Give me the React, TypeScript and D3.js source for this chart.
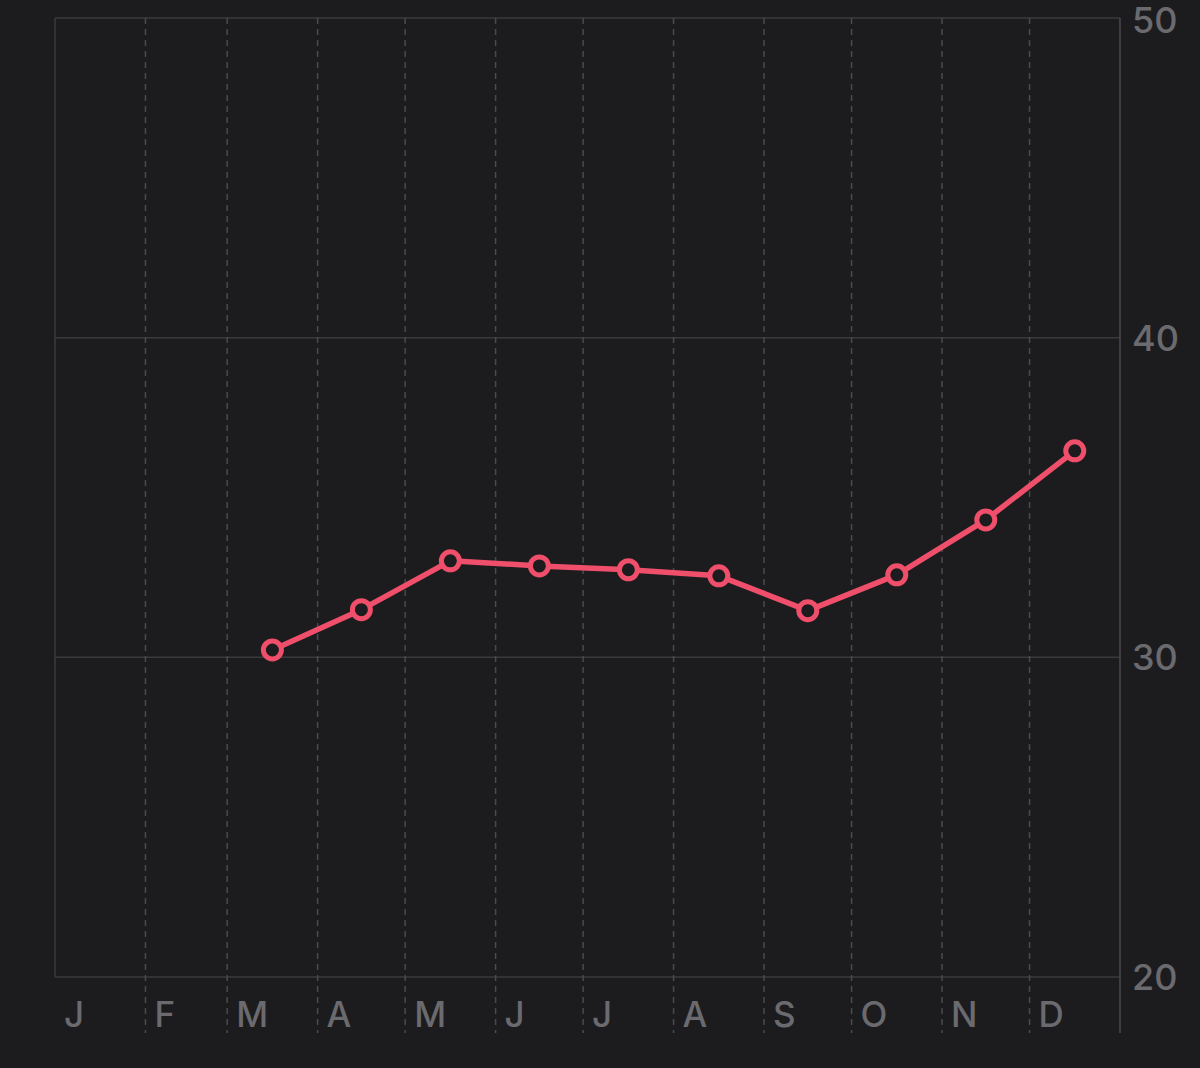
import React, { useEffect } from "react";
import * as d3 from "d3";

const months = ["J", "F", "M", "A", "M", "J", "J", "A", "S", "O", "N", "D"];
const pointMonths = [2, 3, 4, 5, 6, 7, 8, 9, 10, 11];
const pointValues = [30.23, 31.49, 33.02, 32.86, 32.74, 32.55, 31.46, 32.58, 34.3, 36.46];
const yTicks = [20, 30, 40, 50];

const W = 1200;
const H = 1068;
const M = { left: 55, right: 80, top: 18, bottom: 91 };

export default function App() {
  useEffect(() => {
    document.body.style.margin = "0";
    document.body.style.background = "#1c1c1e";
  }, []);

  const x = d3
    .scaleTime()
    .domain([new Date(2023, 0, 1), new Date(2024, 0, 1)])
    .range([M.left, W - M.right]);
  const y = d3.scaleLinear().domain([20, 50]).range([H - M.bottom, M.top]);

  const monthStarts = d3.timeMonths(new Date(2023, 0, 1), new Date(2024, 0, 1));
  const mid = (m: number) => {
    const a = new Date(2023, m, 1).getTime();
    const b = new Date(2023, m + 1, 1).getTime();
    return new Date((a + b) / 2);
  };
  const pts = pointMonths.map((m, i) => ({ d: mid(m), v: pointValues[i] }));
  const line = d3
    .line<{ d: Date; v: number }>()
    .x((p) => x(p.d))
    .y((p) => y(p.v));

  const x0 = M.left;
  const x1 = W - M.right;
  const yTop = M.top;
  const yBot = H - M.bottom;
  const extBot = 1033;
  const font = "Inter, 'Open Sans', sans-serif";
  const labelColor = "#6a6a6f";

  return (
    <svg width={W} height={H} style={{ display: "block", background: "#1c1c1e" }}>
      <rect x={0} y={0} width={W} height={H} fill="#1c1c1e" />
      {yTicks.map((t) => (
        <line key={"h" + t} x1={x0} x2={x1} y1={y(t)} y2={y(t)} stroke="#3a3a3d" strokeWidth={1.5} />
      ))}
      {monthStarts.slice(1).map((d, i) => (
        <line
          key={"v" + i}
          x1={x(d)}
          x2={x(d)}
          y1={yTop}
          y2={extBot}
          stroke="#4a4a4e"
          strokeWidth={1.5}
          strokeDasharray="6 5"
        />
      ))}
      <line x1={x0} x2={x0} y1={yTop} y2={yBot} stroke="#3a3a3d" strokeWidth={1.5} />
      <line x1={x1} x2={x1} y1={yTop} y2={extBot} stroke="#4a4a4e" strokeWidth={1.5} />
      {yTicks.map((t) => (
        <text
          key={"t" + t}
          x={x1 + 12}
          y={Math.max(y(t), 20)}
          dy="0.36em"
          fill={labelColor}
          fontSize={36}
          fontWeight={500}
          fontFamily={font}
        >
          {t}
        </text>
      ))}
      {monthStarts.map((d, i) => (
        <text
          key={"m" + i}
          x={x(d) + 9}
          y={1014}
          dy="0.36em"
          fill={labelColor}
          fontSize={35}
          fontWeight={500}
          fontFamily={font}
        >
          {months[i]}
        </text>
      ))}
      <path d={line(pts) || ""} fill="none" stroke="#ef4f6b" strokeWidth={5.5} strokeLinejoin="round" />
      {pts.map((p, i) => (
        <circle key={"c" + i} cx={x(p.d)} cy={y(p.v)} r={9} fill="#1c1c1e" stroke="#ef4f6b" strokeWidth={5} />
      ))}
    </svg>
  );
}
